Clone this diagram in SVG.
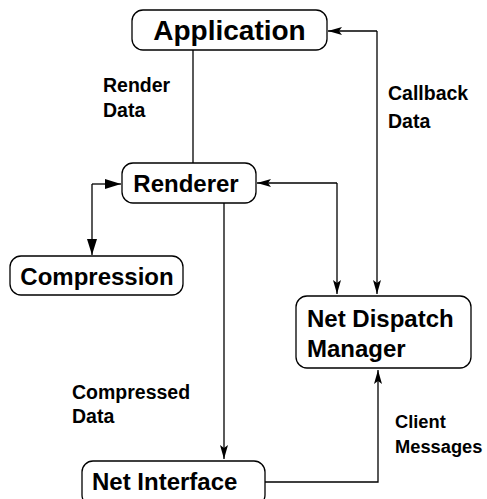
<svg xmlns="http://www.w3.org/2000/svg" width="487" height="499" viewBox="0 0 487 499">
<style>
.box{fill:#fff;stroke:#000;stroke-width:1.3}
.nt{font-family:"Liberation Sans",Arial,sans-serif;font-weight:bold;font-size:24px;fill:#000}
.lb{font-family:"Liberation Sans",Arial,sans-serif;font-weight:bold;font-size:19.5px;fill:#000}
.sm{font-size:18.3px}
.cn{fill:none;stroke:#000;stroke-width:1.3}
</style>
<defs>
<marker id="ah" viewBox="0 0 16 10" refX="16" refY="5" markerWidth="16" markerHeight="10" markerUnits="userSpaceOnUse" orient="auto">
<path d="M0,0 L16,5 L0,10 Z" fill="#000"/>
</marker>
<marker id="an" viewBox="0 0 14 8" refX="14" refY="4" markerWidth="14" markerHeight="8" markerUnits="userSpaceOnUse" orient="auto">
<path d="M0,0 L14,4 L0,8 L3,4 Z" fill="#000"/>
</marker>
</defs>
<rect width="487" height="499" fill="#fff"/>
<g id="connectors">
<path class="cn" d="M193,50 V163"/>
<path class="cn" d="M377,31 H328" marker-end="url(#an)"/>
<path class="cn" d="M377,31 V294" marker-end="url(#an)"/>
<path class="cn" d="M337,183 H257" marker-end="url(#an)"/>
<path class="cn" d="M337,183 V294" marker-end="url(#an)"/>
<path class="cn" d="M92,184 H121" marker-end="url(#ah)"/>
<path class="cn" d="M92,184 V255" marker-end="url(#ah)"/>
<path class="cn" d="M224,203 V459" marker-end="url(#an)"/>
<path class="cn" d="M265,482 H378 V370" marker-end="url(#an)"/>
</g>
<g id="application">
<rect class="box" x="132" y="10" width="195" height="40" rx="11"/>
<text class="nt" x="229.5" y="40" text-anchor="middle" style="font-size:28px">Application</text>
</g>
<g id="renderer">
<rect class="box" x="122" y="163" width="134" height="40" rx="11"/>
<text class="nt" x="186" y="192" text-anchor="middle">Renderer</text>
</g>
<g id="compression">
<rect class="box" x="10" y="256" width="173" height="39" rx="11"/>
<text class="nt" x="97" y="285" text-anchor="middle">Compression</text>
</g>
<g id="netdispatch">
<rect class="box" x="296" y="296" width="175" height="72" rx="11"/>
<text class="nt" x="307" y="327">Net Dispatch</text>
<text class="nt" x="307" y="357">Manager</text>
</g>
<g id="netinterface">
<rect class="box" x="82" y="461" width="183" height="45" rx="11"/>
<text class="nt" x="92" y="490">Net Interface</text>
</g>
<g id="labels">
<text class="lb" x="103" y="92">Render</text>
<text class="lb" x="103" y="117">Data</text>
<text class="lb" x="388" y="100">Callback</text>
<text class="lb" x="388" y="128">Data</text>
<text class="lb" x="72" y="399">Compressed</text>
<text class="lb" x="72" y="423">Data</text>
<text class="lb sm" x="395" y="428">Client</text>
<text class="lb sm" x="395" y="453">Messages</text>
</g>
</svg>
